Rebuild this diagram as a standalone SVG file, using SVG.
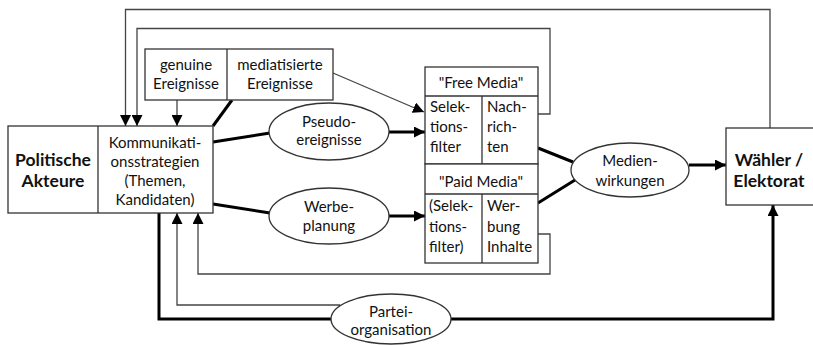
<svg xmlns="http://www.w3.org/2000/svg" width="813" height="345" viewBox="0 0 813 345">
  <style>
    .box { fill: #fff; stroke: #333; stroke-width: 1.3; }
    .div { fill: none; stroke: #333; stroke-width: 1.3; }
    .thin { fill: none; stroke: #444; stroke-width: 1.3; }
    .thick { fill: none; stroke: #000; stroke-width: 3; }
    text { font-family: Lato, "Open Sans", sans-serif; font-size: 15px; fill: #111; }
    .c { text-anchor: middle; }
    .b { font-weight: bold; font-size: 17.5px; }
  </style>
  <defs>
    <marker id="ah" markerWidth="11" markerHeight="11" refX="11" refY="5.5" orient="auto" markerUnits="userSpaceOnUse">
      <path d="M0,0 L11,5.5 L0,11 Z" fill="#000"/>
    </marker>
  </defs>

  <!-- connectors -->
  <g id="connectors">
    <!-- feedback from voters to actors (outer top loop) -->
    <path class="thin" d="M770,128 V9.5 H125.5 V126" marker-end="url(#ah)"/>
    <!-- feedback from news to actors -->
    <path class="thin" d="M538,114 H550 V28.5 H137 V126" marker-end="url(#ah)"/>
    <!-- genuine events into strategies -->
    <path class="thin" d="M177,100 V126" marker-end="url(#ah)"/>
    <!-- mediatised events link -->
    <path class="thick" d="M232,100 L213,126"/>
    <path class="thin" d="M333,73 L424,112" marker-end="url(#ah)"/>
    <!-- strategies to pseudo events and ad planning -->
    <path class="thick" d="M213,142 L270,133"/>
    <path class="thick" d="M389,132 H425" marker-end="url(#ah)"/>
    <path class="thick" d="M213,204 L270,213"/>
    <path class="thick" d="M389,216 H425" marker-end="url(#ah)"/>
    <!-- media to effects -->
    <path class="thick" d="M538,148 L573,162"/>
    <path class="thick" d="M538,203 L575,180"/>
    <path class="thick" d="M689,165 H726" marker-end="url(#ah)"/>
    <!-- ad content feedback -->
    <path class="thin" d="M538,234 H550 V274 H198 V213" marker-end="url(#ah)"/>
    <!-- party organisation feedback -->
    <path class="thin" d="M340,305 H177 V213" marker-end="url(#ah)"/>
    <!-- strategies through party organisation to voters -->
    <path class="thick" d="M159,213 V319 H773 V205" marker-end="url(#ah)"/>
  </g>

  <g id="ereignisse">
    <rect class="box" x="145" y="49" width="188" height="51"/>
    <line class="div" x1="227" y1="49" x2="227" y2="100"/>
    <text class="c" x="186" y="70">genuine</text>
    <text class="c" x="186" y="89">Ereignisse</text>
    <text class="c" x="280" y="70">mediatisierte</text>
    <text class="c" x="280" y="89">Ereignisse</text>
  </g>

  <g id="akteure">
    <rect class="box" x="8" y="126" width="205" height="87"/>
    <line class="div" x1="98" y1="126" x2="98" y2="213"/>
    <text class="c b" x="53" y="166">Politische</text>
    <text class="c b" x="53" y="187">Akteure</text>
    <text class="c" x="155" y="148">Kommunikati-</text>
    <text class="c" x="155" y="167">onsstrategien</text>
    <text class="c" x="155" y="186">(Themen,</text>
    <text class="c" x="155" y="205">Kandidaten)</text>
  </g>

  <g id="pseudoereignisse">
    <ellipse class="box" cx="329" cy="131.5" rx="60" ry="28.5"/>
    <text class="c" x="329" y="127">Pseudo-</text>
    <text class="c" x="329" y="145">ereignisse</text>
  </g>

  <g id="werbeplanung">
    <ellipse class="box" cx="329" cy="216" rx="60" ry="28"/>
    <text class="c" x="329" y="212">Werbe-</text>
    <text class="c" x="329" y="231">planung</text>
  </g>

  <g id="free-media">
    <rect class="box" x="425" y="67" width="113" height="97"/>
    <line class="div" x1="425" y1="96" x2="538" y2="96"/>
    <line class="div" x1="482" y1="96" x2="482" y2="164"/>
    <text class="c" x="481" y="88">"Free Media"</text>
    <text x="430" y="112">Selek-</text>
    <text x="430" y="132">tions-</text>
    <text x="430" y="152">filter</text>
    <text x="487" y="112">Nach-</text>
    <text x="487" y="132">rich-</text>
    <text x="487" y="152">ten</text>
  </g>

  <g id="paid-media">
    <rect class="box" x="425" y="164" width="113" height="99"/>
    <line class="div" x1="425" y1="194" x2="538" y2="194"/>
    <line class="div" x1="482" y1="194" x2="482" y2="263"/>
    <text class="c" x="481" y="187">"Paid Media"</text>
    <text x="429" y="211">(Selek-</text>
    <text x="429" y="232">tions-</text>
    <text x="429" y="252">filter)</text>
    <text x="487" y="211">Wer-</text>
    <text x="487" y="232">bung</text>
    <text x="487" y="252">Inhalte</text>
  </g>

  <g id="medienwirkungen">
    <ellipse class="box" cx="630" cy="170" rx="59" ry="27"/>
    <text class="c" x="630" y="166">Medien-</text>
    <text class="c" x="630" y="186">wirkungen</text>
  </g>

  <g id="waehler">
    <rect class="box" x="726" y="128" width="100" height="77"/>
    <text class="c b" x="769" y="166">Wähler /</text>
    <text class="c b" x="769" y="187">Elektorat</text>
  </g>

  <g id="parteiorganisation">
    <ellipse class="box" cx="391" cy="319" rx="60" ry="25"/>
    <text class="c" x="391" y="317">Partei-</text>
    <text class="c" x="391" y="335">organisation</text>
  </g>
</svg>
